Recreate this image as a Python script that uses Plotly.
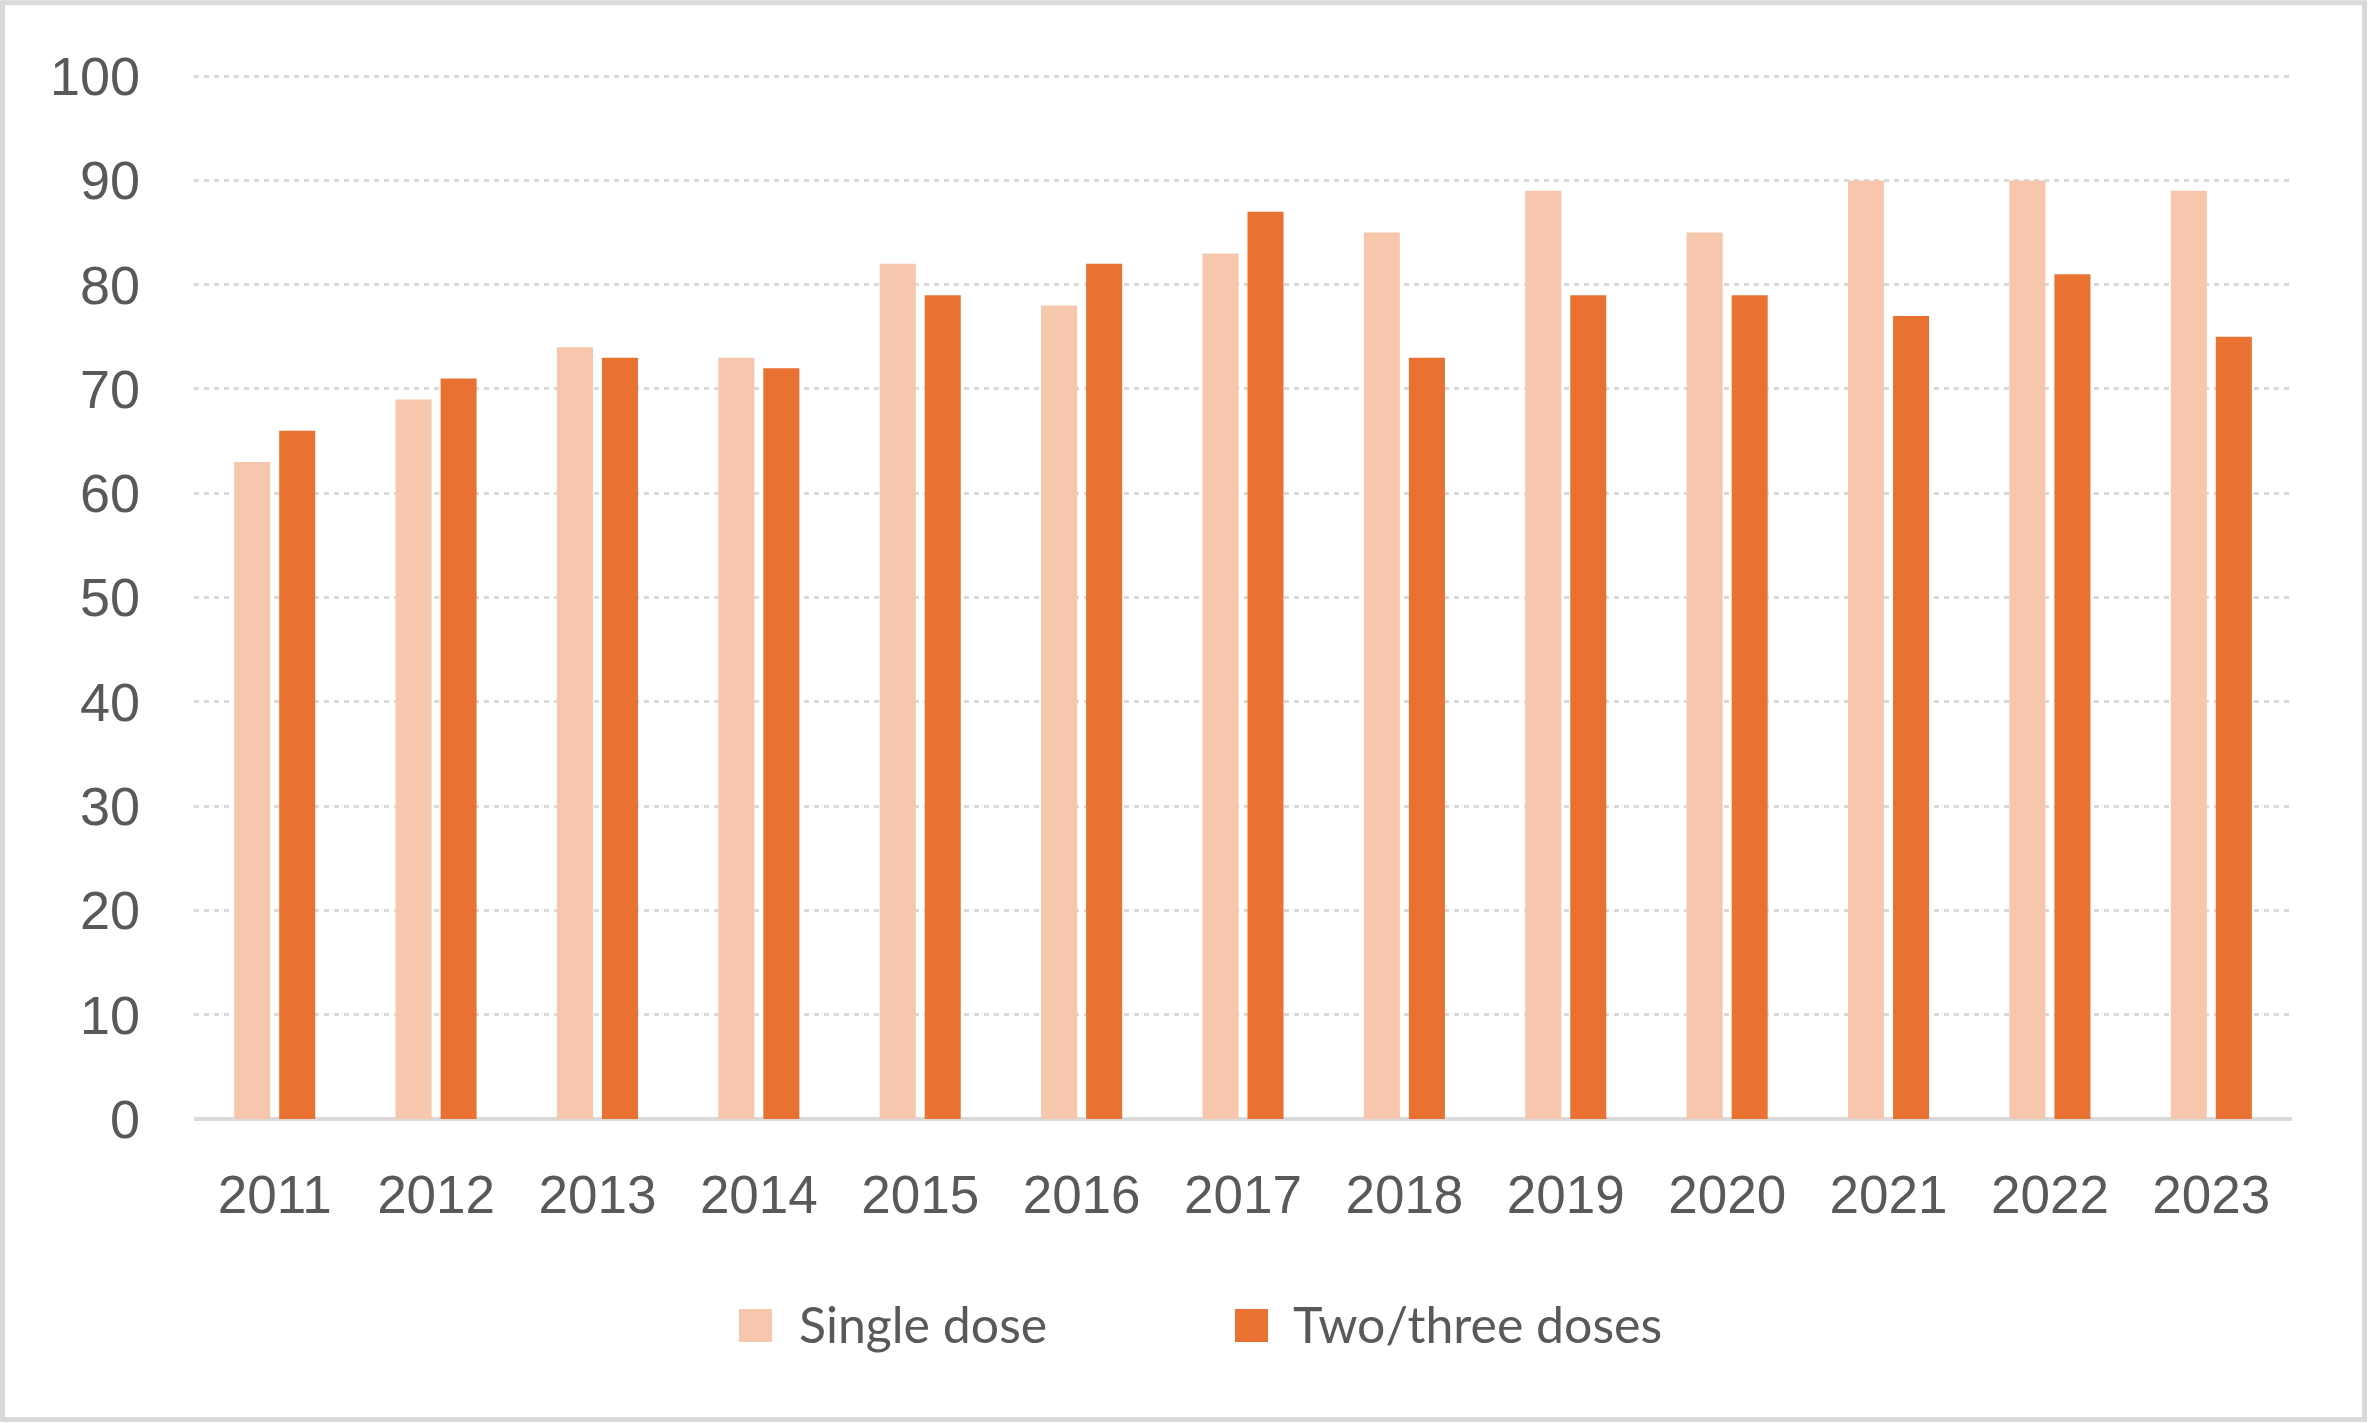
import plotly.graph_objects as go

years = ["2011", "2012", "2013", "2014", "2015", "2016", "2017", "2018", "2019", "2020", "2021", "2022", "2023"]
single_dose = [63, 69, 74, 73, 82, 78, 83, 85, 89, 85, 90, 90, 89]
two_three_doses = [66, 71, 73, 72, 79, 82, 87, 73, 79, 79, 77, 81, 75]
series_names = ["Single dose", "Two/three doses"]
y_ticks = [0, 10, 20, 30, 40, 50, 60, 70, 80, 90, 100]

c_single = "#F6C6AD"
c_double = "#E97132"
text_col = "#595959"
grid_col = "#D9D9D9"

W, H = 2368, 1423
YMAX = 100.3
L, R, B = 194, 2292, 1119
T = B - (B - 76) * YMAX / 100.0

fig = go.Figure()
fig.add_trace(go.Bar(x=years, y=single_dose, name=series_names[0], marker=dict(color=c_single, line=dict(width=0)), showlegend=False))
fig.add_trace(go.Bar(x=years, y=two_three_doses, name=series_names[1], marker=dict(color=c_double, line=dict(width=0)), showlegend=False))

def px2paper_x(px):
    return (px - L) / (R - L)

def px2paper_y(py):
    return (B - py) / (B - T)

shapes = []
annotations = []
# outer border
shapes.append(dict(type="rect", xref="paper", yref="paper",
                   x0=px2paper_x(2.5), x1=px2paper_x(W - 3.5), y0=px2paper_y(H - 3.5), y1=px2paper_y(2.5),
                   line=dict(color=grid_col, width=5), fillcolor="rgba(0,0,0,0)", layer="below"))

# custom legend
leg = [(739, 799, c_single, series_names[0]), (1235, 1293, c_double, series_names[1])]
for mx, tx, col, name in leg:
    shapes.append(dict(type="rect", xref="paper", yref="paper",
                       x0=px2paper_x(mx), x1=px2paper_x(mx + 33), y0=px2paper_y(1342), y1=px2paper_y(1309),
                       line=dict(width=0), fillcolor=col))
    annotations.append(dict(xref="paper", yref="paper", x=px2paper_x(tx - 2), y=px2paper_y(1324),
                            xanchor="left", yanchor="middle", showarrow=False, text=name,
                            font=dict(family="Lato", size=50, color=text_col)))

fig.update_layout(
    width=W, height=H,
    margin=dict(l=L, r=W - R, t=T, b=H - B, pad=0),
    paper_bgcolor="white", plot_bgcolor="white",
    barmode="group", bargap=0.442, bargroupgap=0.2,
    font=dict(family="Liberation Sans, Arial", size=53, color=text_col),
    shapes=shapes, annotations=annotations,
    showlegend=False,
)
fig.update_xaxes(showgrid=False, showline=False, ticks="", zeroline=False,
                 tickfont=dict(family="Liberation Sans, Arial", size=53, color=text_col),
                 ticklabelstandoff=40)
fig.update_yaxes(range=[0, YMAX], tickvals=y_ticks, showgrid=True, gridcolor=grid_col, gridwidth=3,
                 griddash="5px,5px", zeroline=True, zerolinecolor=grid_col, zerolinewidth=4,
                 showline=False, ticks="",
                 tickfont=dict(family="Liberation Sans, Arial", size=54, color=text_col),
                 ticklabelstandoff=53)

fig.write_html("out.html", config={"displayModeBar": False},
               post_script="document.body.style.margin='0';document.body.style.overflow='hidden';")
